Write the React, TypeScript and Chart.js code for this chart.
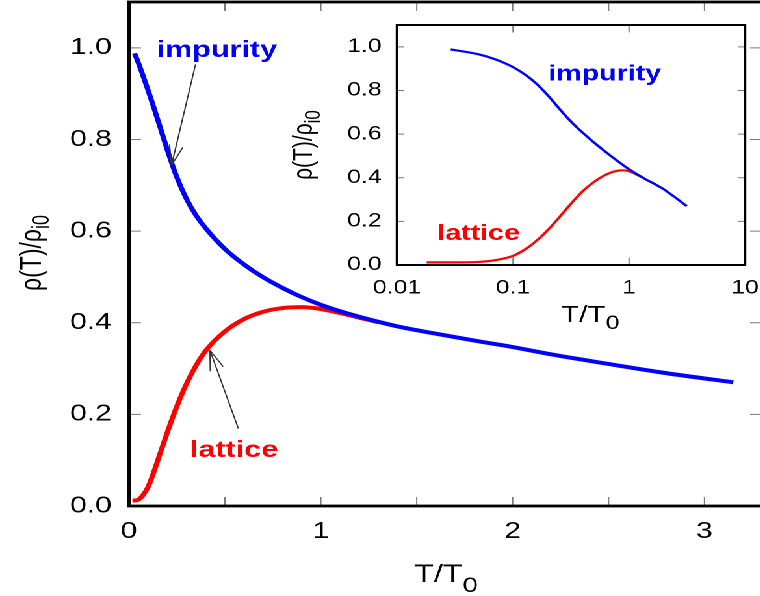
import React, { useEffect, useRef } from 'react';
import { Chart, registerables } from 'chart.js';

Chart.register(...registerables);

// Reduced temperature T/T0 and normalised resistivity rho(T)/rho_i0
const T_IMPURITY = [0.029, 0.05, 0.07, 0.1, 0.13, 0.16, 0.2, 0.25, 0.3, 0.35, 0.4, 0.5, 0.6, 0.7, 0.8, 0.9, 1.0, 1.1, 1.2, 1.3, 1.4, 1.6, 1.8, 2.0, 2.2, 2.5, 2.8, 3.15];
const RHO_IMPURITY = [0.988, 0.966, 0.943, 0.907, 0.869, 0.83, 0.777, 0.717, 0.67, 0.634, 0.606, 0.561, 0.527, 0.499, 0.476, 0.456, 0.439, 0.425, 0.413, 0.402, 0.392, 0.376, 0.361, 0.347, 0.331, 0.31, 0.29, 0.27];

const T_LATTICE = [0.018, 0.03, 0.05, 0.07, 0.1, 0.13, 0.16, 0.2, 0.25, 0.3, 0.35, 0.4, 0.5, 0.6, 0.7, 0.8, 0.9, 1.0, 1.1, 1.2, 1.3];
const RHO_LATTICE = [0.012, 0.012, 0.014, 0.022, 0.042, 0.075, 0.112, 0.161, 0.218, 0.267, 0.307, 0.339, 0.381, 0.408, 0.424, 0.432, 0.434, 0.43, 0.421, 0.411, 0.401];

// Axis ticks
const MAIN_X_LABELS = [0, 1, 2, 3];
const MAIN_X_MARKS = [0.5, 1, 1.5, 2, 2.5, 3];
const MAIN_Y_TICKS = [0, 0.2, 0.4, 0.6, 0.8, 1.0];
const INSET_X_TICKS = [0.01, 0.1, 1, 10];
const INSET_Y_TICKS = [0, 0.2, 0.4, 0.6, 0.8, 1.0];

// Curve labels and pointer arrows, anchored in data space
const MAIN_NOTES = [
  { text: 'impurity', t: 0.144, rho: 0.98, series: 'impurity' },
  { text: 'lattice', t: 0.318, rho: 0.107, series: 'lattice' },
];
const MAIN_ARROWS = [
  { from: [0.347, 0.964], to: [0.222, 0.744] },
  { from: [0.57, 0.169], to: [0.422, 0.34] },
];
const INSET_NOTES = [
  { text: 'impurity', t: 0.2015, rho: 0.845, series: 'impurity' },
  { text: 'lattice', t: 0.02225, rho: 0.115, series: 'lattice' },
];

const BLUE = '#0000ff';
const RED = '#ff0000';
const FONT = '"Liberation Sans", Arial, Helvetica, sans-serif';
const STRETCH = 1.3; // horizontal scale applied to the whole figure

const colorOf = (s: string) => (s === 'impurity' ? BLUE : RED);

function pts(xs: number[], ys: number[]) {
  return xs.map((x, i) => ({ x, y: ys[i] }));
}

function fixScale(size: { width?: number; height?: number }) {
  return (s: any) => {
    if (size.width !== undefined) s.width = size.width;
    if (size.height !== undefined) s.height = size.height;
    s.paddingLeft = 0;
    s.paddingRight = 0;
    s.paddingTop = 0;
    s.paddingBottom = 0;
  };
}

type Part = { text: string; size: number; dy: number };

function drawParts(ctx: CanvasRenderingContext2D, x: number, y: number, parts: Part[], rotate: boolean) {
  ctx.save();
  ctx.translate(x, y);
  if (rotate) ctx.rotate(-Math.PI / 2);
  ctx.fillStyle = '#000';
  ctx.textAlign = 'left';
  ctx.textBaseline = 'alphabetic';
  let total = 0;
  for (const p of parts) {
    ctx.font = `${p.size}px ${FONT}`;
    total += ctx.measureText(p.text).width;
  }
  let cx = -total / 2;
  for (const p of parts) {
    ctx.font = `${p.size}px ${FONT}`;
    ctx.fillText(p.text, cx, p.dy);
    cx += ctx.measureText(p.text).width;
  }
  ctx.restore();
}

type FrameOpts = {
  xMarks: number[];
  yMarks: number[];
  vLen: number;
  hLen: number;
  frameWidth: number;
};

function framePlugin(id: string, o: FrameOpts) {
  return {
    id,
    afterDatasetsDraw(chart: any) {
      const { ctx, chartArea: a, scales } = chart;
      const xs = scales.x;
      const ys = scales.y;
      ctx.save();
      ctx.strokeStyle = '#7a7a7a';
      ctx.lineWidth = 1;
      ctx.beginPath();
      for (const v of o.xMarks) {
        const px = xs.getPixelForValue(v);
        ctx.moveTo(px, a.bottom);
        ctx.lineTo(px, a.bottom - o.vLen);
        ctx.moveTo(px, a.top);
        ctx.lineTo(px, a.top + o.vLen);
      }
      for (const v of o.yMarks) {
        const py = ys.getPixelForValue(v);
        ctx.moveTo(a.left, py);
        ctx.lineTo(a.left + o.hLen, py);
        ctx.moveTo(a.right, py);
        ctx.lineTo(a.right - o.hLen, py);
      }
      ctx.stroke();
      ctx.strokeStyle = '#000';
      ctx.lineWidth = o.frameWidth;
      ctx.strokeRect(a.left, a.top, a.right - a.left, a.bottom - a.top);
      ctx.restore();
    },
  };
}

type Note = { text: string; t: number; rho: number; series: string };
type Arrow = { from: number[]; to: number[] };

function notesPlugin(id: string, notes: Note[], arrows: Arrow[], fontSize: number) {
  return {
    id,
    afterDatasetsDraw(chart: any) {
      const { ctx, scales } = chart;
      const xs = scales.x;
      const ys = scales.y;
      ctx.save();
      ctx.textAlign = 'left';
      ctx.textBaseline = 'alphabetic';
      ctx.font = `bold ${fontSize}px ${FONT}`;
      for (const n of notes) {
        ctx.fillStyle = colorOf(n.series);
        ctx.fillText(n.text, xs.getPixelForValue(n.t), ys.getPixelForValue(n.rho));
      }
      ctx.strokeStyle = '#333';
      ctx.lineWidth = 1;
      for (const ar of arrows) {
        const x0 = xs.getPixelForValue(ar.from[0]);
        const y0 = ys.getPixelForValue(ar.from[1]);
        const x1 = xs.getPixelForValue(ar.to[0]);
        const y1 = ys.getPixelForValue(ar.to[1]);
        // arrowhead geometry in on-screen proportions
        const dx = (x0 - x1) * STRETCH;
        const dy = y0 - y1;
        const len = Math.hypot(dx, dy);
        const ux = dx / len;
        const uy = dy / len;
        const head = 21;
        const ang = (19 * Math.PI) / 180;
        ctx.beginPath();
        ctx.moveTo(x0, y0);
        ctx.lineTo(x1, y1);
        for (const s of [-1, 1]) {
          const c = Math.cos(s * ang);
          const sn = Math.sin(s * ang);
          const hx = (ux * c - uy * sn) * head;
          const hy = (ux * sn + uy * c) * head;
          ctx.moveTo(x1, y1);
          ctx.lineTo(x1 + hx / STRETCH, y1 + hy);
        }
        ctx.stroke();
      }
      ctx.restore();
    },
  };
}

function titlesPlugin(id: string, draw: (ctx: CanvasRenderingContext2D) => void) {
  return {
    id,
    afterDraw(chart: any) {
      draw(chart.ctx);
    },
  };
}

export default function App() {
  const mainRef = useRef<HTMLCanvasElement | null>(null);
  const insetRef = useRef<HTMLCanvasElement | null>(null);

  useEffect(() => {
    if (!mainRef.current || !insetRef.current) return;

    const datasets = (width: number) => [
      {
        label: 'impurity',
        data: pts(T_IMPURITY, RHO_IMPURITY),
        borderColor: BLUE,
        borderWidth: width,
        pointRadius: 0,
        cubicInterpolationMode: 'monotone' as const,
        fill: false,
      },
      {
        label: 'lattice',
        data: pts(T_LATTICE, RHO_LATTICE),
        borderColor: RED,
        borderWidth: width,
        pointRadius: 0,
        cubicInterpolationMode: 'monotone' as const,
        fill: false,
      },
    ];

    const main = new Chart(mainRef.current, {
      type: 'line',
      data: { datasets: datasets(4) },
      options: {
        animation: false,
        responsive: false,
        devicePixelRatio: 2,
        events: [],
        layout: { padding: { left: 0, top: 2, right: 13.8, bottom: 0 } },
        plugins: { legend: { display: false }, tooltip: { enabled: false } },
        scales: {
          x: {
            type: 'linear',
            min: 0,
            max: 3.3,
            grid: { display: false, drawTicks: false },
            border: { display: false },
            afterBuildTicks: (s: any) => {
              s.ticks = MAIN_X_LABELS.map((v) => ({ value: v }));
            },
            afterFit: fixScale({ height: 90 }),
            ticks: {
              autoSkip: false,
              maxRotation: 0,
              minRotation: 0,
              padding: 12,
              color: '#000',
              font: { family: FONT, size: 23 },
              callback: (v: any) => String(v),
            },
          },
          y: {
            type: 'linear',
            min: 0,
            max: 1.1,
            grid: { display: false, drawTicks: false },
            border: { display: false },
            afterBuildTicks: (s: any) => {
              s.ticks = MAIN_Y_TICKS.map((v) => ({ value: v }));
            },
            afterFit: fixScale({ width: 99.2 }),
            ticks: {
              padding: 13.3,
              color: '#000',
              font: { family: FONT, size: 23 },
              callback: (v: any) => Number(v).toFixed(1),
            },
          },
        },
      },
      plugins: [
        framePlugin('mainFrame', { xMarks: MAIN_X_MARKS, yMarks: MAIN_Y_TICKS, vLen: 9, hLen: 9.2, frameWidth: 2.8 }),
        notesPlugin('mainNotes', MAIN_NOTES, MAIN_ARROWS, 23.5),
        titlesPlugin('mainTitles', (ctx) => {
          drawParts(ctx, 31.5, 253, [
            { text: 'ρ(T)/ρ', size: 23, dy: 0 },
            { text: 'i0', size: 18, dy: 6 },
          ], true);
          drawParts(ctx, 343, 582, [
            { text: 'T/T', size: 25, dy: 0 },
            { text: '0', size: 21, dy: 10 },
          ], false);
        }),
      ],
    } as any);

    const inset = new Chart(insetRef.current, {
      type: 'line',
      data: { datasets: datasets(2.2) },
      options: {
        animation: false,
        responsive: false,
        devicePixelRatio: 2,
        events: [],
        layout: { padding: { left: 0, top: 25, right: 16.9, bottom: 0 } },
        plugins: { legend: { display: false }, tooltip: { enabled: false } },
        scales: {
          x: {
            type: 'logarithmic',
            min: 0.01,
            max: 10,
            grid: { display: false, drawTicks: false },
            border: { display: false },
            afterBuildTicks: (s: any) => {
              s.ticks = INSET_X_TICKS.map((v) => ({ value: v }));
            },
            afterFit: fixScale({ height: 75 }),
            ticks: {
              autoSkip: false,
              maxRotation: 0,
              minRotation: 0,
              padding: 12,
              color: '#000',
              font: { family: FONT, size: 19 },
              callback: (v: any) => String(v),
            },
          },
          y: {
            type: 'linear',
            min: 0,
            max: 1.1,
            grid: { display: false, drawTicks: false },
            border: { display: false },
            afterBuildTicks: (s: any) => {
              s.ticks = INSET_Y_TICKS.map((v) => ({ value: v }));
            },
            afterFit: fixScale({ width: 105.4 }),
            ticks: {
              padding: 11.8,
              color: '#000',
              font: { family: FONT, size: 19 },
              callback: (v: any) => Number(v).toFixed(1),
            },
          },
        },
      },
      plugins: [
        framePlugin('insetFrame', { xMarks: INSET_X_TICKS, yMarks: INSET_Y_TICKS, vLen: 7.5, hLen: 5.6, frameWidth: 2 }),
        notesPlugin('insetNotes', INSET_NOTES, [], 22),
        titlesPlugin('insetTitles', (ctx) => {
          drawParts(ctx, 40, 145, [
            { text: 'ρ(T)/ρ', size: 21, dy: 0 },
            { text: 'i0', size: 17, dy: 6 },
          ], true);
          drawParts(ctx, 254, 322, [
            { text: 'T/T', size: 23, dy: 0 },
            { text: '0', size: 19, dy: 7 },
          ], false);
        }),
      ],
    } as any);

    return () => {
      main.destroy();
      inset.destroy();
    };
  }, []);

  return (
    <div
      style={{
        position: 'fixed',
        left: 0,
        top: 0,
        width: 760,
        height: 596,
        overflow: 'hidden',
        background: '#fff',
      }}
    >
      <div
        style={{
          position: 'absolute',
          left: 0,
          top: 0,
          width: 600,
          height: 596,
          transform: `scaleX(${STRETCH})`,
          transformOrigin: '0 0',
        }}
      >
        <canvas
          ref={mainRef}
          width={600}
          height={596}
          style={{ position: 'absolute', left: 0, top: 0 }}
        />
        <canvas
          ref={insetRef}
          width={390}
          height={340}
          style={{ position: 'absolute', left: 200, top: 0 }}
        />
      </div>
    </div>
  );
}
